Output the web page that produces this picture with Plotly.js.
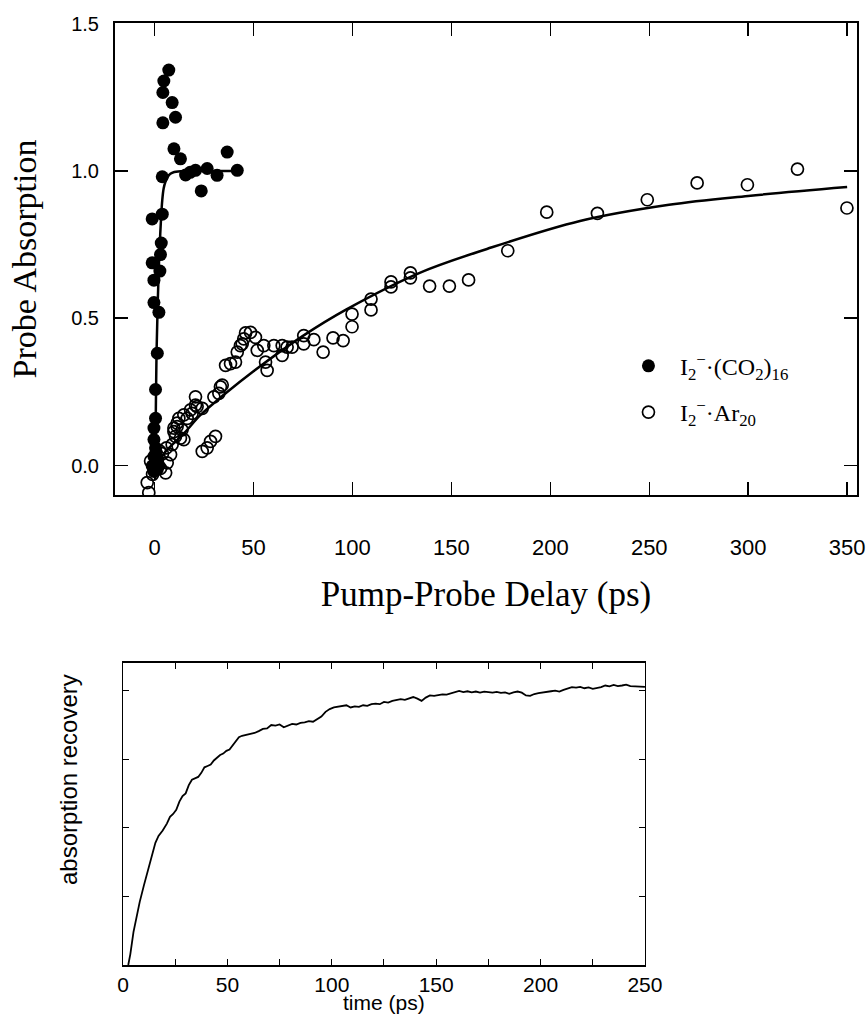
<!DOCTYPE html>
<html>
<head>
<meta charset="utf-8">
<script src="https://cdn.plot.ly/plotly-3.0.1.min.js"></script>
<style>
  html, body { margin: 0; padding: 0; background: #ffffff; }
  #chart { width: 867px; height: 1017px; }
</style>
</head>
<body>
<div id="chart"></div>
<script>
// ---------- Top panel: I2-(CO2)16 (filled) ----------
const co2Delay = [7.2, 4.7, 4.2, 8.9, 10.6, 4.2, 9.8, 13.1, 36.7, 3.9, 15.7, 20.7, 26.6, 31.6, 41.8, 23.6, 18.0,
  -1.2, 3.9, 3.4, 3.0, -1.2, 2.7, -0.3, -0.3, 2.2, 1.4, 0.5, 0.5, -0.3, -0.3, 0.5, -0.3, -1.2, 1.4, -0.3, 0.8, 1.5, 2.2];
const co2Abs = [1.342, 1.305, 1.266, 1.232, 1.182, 1.163, 1.075, 1.041, 1.064, 0.98, 0.986, 1.002, 1.008, 0.985, 1.002, 0.932, 0.995,
  0.837, 0.853, 0.755, 0.716, 0.688, 0.66, 0.629, 0.553, 0.52, 0.381, 0.258, 0.16, 0.127, 0.088, 0.06, 0.031, -0.002, -0.013, -0.02, 0.045, 0.02, 0.0];

// fit curve for CO2
const co2FitDelay = [0.3, 0.6, 1.0, 1.6, 2.2, 2.7, 3.3, 3.9, 4.6, 5.5, 6.5, 8, 10, 15, 25, 35, 42];
const co2FitAbs = [-0.05, 0.15, 0.38, 0.55, 0.68, 0.76, 0.84, 0.9, 0.94, 0.963, 0.978, 0.99, 0.996, 1.0, 1.0, 1.0, 1.0];

// ---------- Top panel: I2-Ar20 (open) ----------
const arDelay = [-3.7, -2.9, -2.0, -1.0, 0.0, 1.5, 3.0, 5.6, 6.4, 8.1, 8.9, 10.6, 11.4, 14.8, 13.9, 9.8, 12.3, 14.8, 16.5, 18.2,
  20.7, 20.7, 24.1, 19.0, 21.5, 11.4, 9.8, 13.1, 24.1, 26.6, 28.3, 30.8, 30.0, 32.5, 34.2, 33.3, 38.4, 40.9, 35.9, 41.8,
  44.3, 46.0, 48.5, 51.0, 45.1, 43.4, 51.9, 55.2, 60.3, 64.5, 69.5, 56.1, 56.9, 64.5, 67.0, 75.4, 75.4, 80.5, 85.2, 90.2,
  95.3, 99.8, 99.8, 109.4, 109.4, 119.5, 119.5, 129.3, 129.3, 139.0, 149.0, 158.7, 178.5, 198.2, 223.8, 249.0, 274.2,
  299.6, 324.9, 349.9, 4.0, 6.0, 2.5];
const arAbs = [-0.058, -0.092, 0.015, -0.03, 0.0, 0.02, -0.01, -0.025, 0.009, 0.037, 0.071, 0.099, 0.132, 0.088, 0.121, 0.127, 0.16, 0.172, 0.16, 0.189,
  0.205, 0.233, 0.194, 0.177, 0.2, 0.144, 0.115, 0.093, 0.048, 0.06, 0.082, 0.099, 0.233, 0.245, 0.273, 0.267, 0.346, 0.351, 0.34, 0.385,
  0.413, 0.45, 0.452, 0.435, 0.43, 0.407, 0.391, 0.407, 0.407, 0.407, 0.402, 0.351, 0.323, 0.374, 0.402, 0.441, 0.413, 0.427, 0.385, 0.433,
  0.424, 0.471, 0.514, 0.528, 0.565, 0.623, 0.606, 0.654, 0.637, 0.609, 0.609, 0.63, 0.729, 0.86, 0.856, 0.902, 0.959,
  0.953, 1.006, 0.874, 0.04, 0.06, 0.05];

// fit curve for Ar
const arFitDelay = [0, 6, 15, 23, 35, 50, 75, 97, 134, 168, 215, 260, 300, 350];
const arFitAbs = [0.0, 0.05, 0.11, 0.17, 0.24, 0.32, 0.44, 0.53, 0.654, 0.735, 0.83, 0.885, 0.915, 0.945];

const topXTicks = [0, 50, 100, 150, 200, 250, 300, 350];
const topYTicks = [0.0, 0.5, 1.0, 1.5];
const legendCO2 = 'I<sub>2</sub><sup>\u2212</sup>\u00b7(CO<sub>2</sub>)<sub>16</sub>';
const legendAr = 'I<sub>2</sub><sup>\u2212</sup>\u00b7Ar<sub>20</sub>';

// ---------- Bottom panel: absorption recovery ----------
const recTime = [2.5, 3.5, 5, 6.5, 8, 10, 12, 14, 15.5, 17, 19, 21, 22.5, 24, 25.5, 27, 28.5, 30, 31.5, 33, 34.5, 36, 37.5, 39,
  40.5, 42, 43.5, 45, 46.5, 48, 49.5, 51, 52.5, 54, 55.5, 57, 59, 61, 63, 65, 67, 69, 71, 73, 75, 77, 79, 81, 83, 85, 87, 89,
  91, 93, 95, 97, 99, 101, 103, 105, 107, 109, 111, 113, 115, 117, 119, 121, 123, 125, 127, 129, 131, 133, 135, 137, 139,
  141, 143, 145, 147, 149, 151, 153, 155, 157, 159, 161, 163, 165, 167, 169, 171, 173, 175, 177, 179, 181, 183, 185, 187,
  189, 191, 193, 195, 197, 199, 201, 203, 205, 207, 209, 211, 213, 215, 217, 219, 221, 223, 225, 227, 229, 231, 233, 235,
  237, 239, 241, 243, 245, 247, 249, 250];
const recSignal = [0.0, 0.04, 0.12, 0.18, 0.23, 0.29, 0.35, 0.41, 0.445, 0.47, 0.49, 0.515, 0.54, 0.55, 0.565, 0.595, 0.615, 0.625, 0.655, 0.675, 0.68, 0.685, 0.70, 0.72,
  0.725, 0.73, 0.745, 0.755, 0.765, 0.77, 0.78, 0.785, 0.80, 0.815, 0.83, 0.835, 0.838, 0.842, 0.845, 0.852, 0.86, 0.862, 0.874, 0.872, 0.876, 0.866, 0.872, 0.878, 0.876, 0.882, 0.884, 0.888,
  0.886, 0.894, 0.905, 0.922, 0.932, 0.938, 0.940, 0.944, 0.946, 0.938, 0.942, 0.940, 0.946, 0.944, 0.950, 0.952, 0.950, 0.958, 0.956, 0.962, 0.964, 0.968, 0.966, 0.972, 0.976,
  0.970, 0.962, 0.974, 0.982, 0.980, 0.984, 0.986, 0.985, 0.990, 0.994, 0.998, 0.994, 0.997, 0.993, 0.996, 0.992, 0.996, 0.994, 0.992, 0.995, 0.991, 0.993, 0.988, 0.993,
  0.996, 0.992, 0.982, 0.980, 0.987, 0.990, 0.993, 0.995, 0.997, 0.999, 0.996, 1.002, 1.006, 1.012, 1.010, 1.013, 1.008, 1.011, 1.006, 1.009, 1.012, 1.018, 1.015, 1.020,
  1.016, 1.018, 1.021, 1.016, 1.015, 1.014, 1.012, 1.013];
const recXTicks = [0, 50, 100, 150, 200, 250];
const recYTicks = [0, 0.25, 0.5, 0.75, 1.0];

const SERIF = '"Liberation Serif", "Times New Roman", serif';
const SANS = '"Liberation Sans", Arial, Helvetica, sans-serif';

const traces = [
  { x: co2FitDelay, y: co2FitAbs, type: 'scatter', mode: 'lines', line: { color: '#000', width: 2.5, shape: 'spline' },
    showlegend: false, hoverinfo: 'skip', xaxis: 'x', yaxis: 'y' },
  { x: arFitDelay, y: arFitAbs, type: 'scatter', mode: 'lines', line: { color: '#000', width: 2.5, shape: 'spline' },
    showlegend: false, hoverinfo: 'skip', xaxis: 'x', yaxis: 'y' },
  { x: arDelay, y: arAbs, type: 'scatter', mode: 'markers', name: legendAr, legendgroup: 'b', legendrank: 2,
    marker: { symbol: 'circle-open', size: 12, color: '#000', line: { color: '#000', width: 1.7 } }, xaxis: 'x', yaxis: 'y' },
  { x: co2Delay, y: co2Abs, type: 'scatter', mode: 'markers', name: legendCO2, legendgroup: 'a', legendrank: 1,
    marker: { symbol: 'circle', size: 13, color: '#000' }, xaxis: 'x', yaxis: 'y' },
  { x: recTime, y: recSignal, type: 'scatter', mode: 'lines', line: { color: '#000', width: 1.8 },
    showlegend: false, xaxis: 'x2', yaxis: 'y2' }
];

const layout = {
  width: 867, height: 1017,
  margin: { l: 0, r: 0, t: 0, b: 0 },
  paper_bgcolor: '#fff', plot_bgcolor: '#fff',
  showlegend: true,
  legend: {
    x: 0.7116, y: 0.662, xanchor: 'left', yanchor: 'top',
    font: { family: SERIF, size: 24, color: '#000' },
    bgcolor: 'rgba(0,0,0,0)', traceorder: 'grouped', tracegroupgap: 12, itemwidth: 53
  },
  xaxis: {
    domain: [0.1326, 0.9885], anchor: 'y', range: [-20, 355],
    tickvals: topXTicks, ticks: 'inside', ticklen: 13, tickwidth: 1.5, tickcolor: '#000',
    showline: true, linecolor: '#000', linewidth: 2, mirror: 'ticks', showgrid: false, zeroline: false,
    tickfont: { family: SANS, size: 22, color: '#000' }, ticklabelstandoff: 32,
    title: { text: 'Pump-Probe Delay (ps)', font: { family: SERIF, size: 35, color: '#000' }, standoff: 22 }
  },
  yaxis: {
    domain: [0.5133, 0.9774], anchor: 'x', range: [-0.1, 1.502],
    tickvals: topYTicks, tickformat: '.1f', ticks: 'inside', ticklen: 13, tickwidth: 1.5, tickcolor: '#000',
    showline: true, linecolor: '#000', linewidth: 2, mirror: 'ticks', showgrid: false, zeroline: false,
    tickfont: { family: SANS, size: 20, color: '#000' }, ticklabelstandoff: 10,
    title: { text: 'Probe Absorption', font: { family: SERIF, size: 34, color: '#000' }, standoff: 24 }
  },
  xaxis2: {
    domain: [0.1419, 0.7439], anchor: 'y2', range: [0, 250],
    tickvals: recXTicks, ticks: 'inside', ticklen: 6, tickwidth: 1, tickcolor: '#000',
    minor: { dtick: 25, tick0: 0, ticks: 'inside', ticklen: 6, tickwidth: 1, tickcolor: '#000', showgrid: false },
    showline: true, linecolor: '#000', linewidth: 1.5, mirror: 'ticks', showgrid: false, zeroline: false,
    tickfont: { family: SANS, size: 21, color: '#000' }, ticklabelstandoff: 0
  },
  yaxis2: {
    domain: [0.0511, 0.3481], anchor: 'x2', range: [0, 1.1],
    tickvals: recYTicks, showticklabels: false, ticks: 'inside', ticklen: 6, tickwidth: 1, tickcolor: '#000',
    showline: true, linecolor: '#000', linewidth: 1.5, mirror: 'ticks', showgrid: false, zeroline: false
  },
  annotations: [
    { text: 'absorption recovery', xref: 'paper', yref: 'paper', x: 68 / 867, y: 1 - 780 / 1017,
      xanchor: 'center', yanchor: 'middle', textangle: -90, showarrow: false,
      font: { family: SANS, size: 24, color: '#000' } },
    { text: 'time (ps)', xref: 'paper', yref: 'paper', x: 384 / 867, y: 0, yshift: 1,
      xanchor: 'center', yanchor: 'bottom', showarrow: false,
      font: { family: SANS, size: 21, color: '#000' } }
  ]
};

Plotly.newPlot('chart', traces, layout, { displayModeBar: false, staticPlot: true });
</script>
</body>
</html>
